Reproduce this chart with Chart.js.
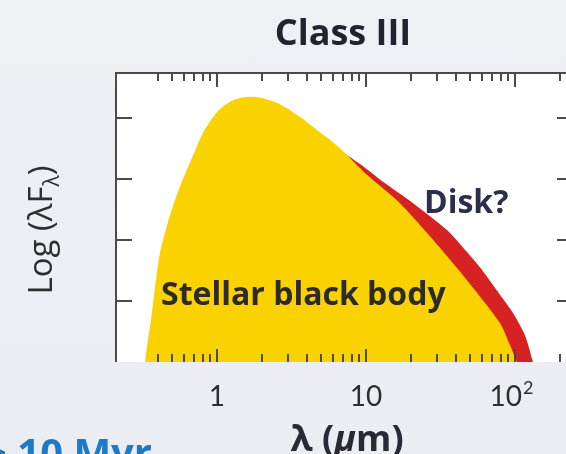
<!DOCTYPE html>
<html>
<head>
<meta charset="utf-8">
<script src="https://cdn.jsdelivr.net/npm/chart.js@4.4.1/dist/chart.umd.min.js"></script>
<style>
    html, body { margin: 0; padding: 0; }
    body { width: 566px; height: 454px; overflow: hidden; background: linear-gradient(180deg, #eef0f4 0%, #ebedf2 100%); }
    #wrap { position: relative; width: 566px; height: 454px; }
</style>
</head>
<body>
<div id="wrap"><canvas id="sedChart" width="566" height="454"></canvas></div>
<script>
'use strict';

// wavelength in micron, flux in arbitrary log units (y axis has no numbers)
const stellarWavelength = [0.329, 0.344, 0.361, 0.384, 0.414, 0.469, 0.523, 0.573, 0.639, 0.711, 0.793, 0.912, 1.047, 1.222, 1.427, 1.665, 2.00, 2.65, 3.61, 4.91, 6.69, 10.2, 16.9, 28.2, 47.6, 79.3, 92.5, 103];
const stellarFlux = [0, 0.36, 0.69, 1.23, 1.78, 2.29, 2.65, 2.91, 3.19, 3.45, 3.72, 3.96, 4.14, 4.26, 4.32, 4.34, 4.32, 4.22, 4.01, 3.76, 3.50, 3.06, 2.60, 2.00, 1.34, 0.64, 0.28, 0];
const diskWavelength = [6.2, 9.12, 13.0, 20.7, 35.0, 47.6, 58.2, 79.3, 97.0, 117, 132];
const diskFlux = [3.52, 3.24, 2.95, 2.60, 2.16, 1.80, 1.55, 1.10, 0.80, 0.43, 0];

const xMajorTicks = [1, 10, 100];
const xMinorTicks = [0.4, 0.5, 0.6, 0.7, 0.8, 0.9, 2, 3, 4, 5, 6, 7, 8, 9, 20, 30, 40, 50, 60, 70, 80, 90, 200];
const yTicks = [1, 2, 3, 4];

const FONT = '"Open Sans", Lato, sans-serif';
const TICK_FONT = 'Lato, "Open Sans", sans-serif';
const AXIS_COLOR = '#4a4a4a';

function toPoints(xs, ys) {
    return xs.map((x, i) => ({ x: x, y: ys[i] }));
}

const framePlugin = {
    id: 'frame',
    beforeDatasetsDraw(chart) {
        const { ctx, chartArea } = chart;
        ctx.save();
        ctx.fillStyle = '#ffffff';
        ctx.fillRect(chartArea.left, chartArea.top, chartArea.right - chartArea.left, chartArea.bottom - chartArea.top);
        ctx.restore();
    },
    afterDatasetsDraw(chart) {
        const { ctx, chartArea } = chart;
        const xs = chart.scales.x;
        const ys = chart.scales.y;
        const top = chartArea.top;
        const bottom = chartArea.bottom;
        const left = chartArea.left;
        const right = chartArea.right;

        ctx.save();
        ctx.strokeStyle = AXIS_COLOR;
        ctx.lineWidth = 2;

        // box lines (left + top)
        ctx.beginPath();
        ctx.moveTo(left, bottom);
        ctx.lineTo(left, top);
        ctx.lineTo(right, top);
        ctx.stroke();

        // x ticks, top and bottom, pointing inward
        ctx.beginPath();
        xMinorTicks.forEach((v) => {
            const px = Math.round(xs.getPixelForValue(v));
            ctx.moveTo(px, top); ctx.lineTo(px, top + 8);
            ctx.moveTo(px, bottom); ctx.lineTo(px, bottom - 8);
        });
        xMajorTicks.forEach((v) => {
            const px = Math.round(xs.getPixelForValue(v));
            ctx.moveTo(px, top); ctx.lineTo(px, top + 14);
            ctx.moveTo(px, bottom); ctx.lineTo(px, bottom - 13);
        });
        // y ticks left and right
        yTicks.forEach((v) => {
            const py = Math.round(ys.getPixelForValue(v));
            ctx.moveTo(left, py); ctx.lineTo(left + 16, py);
            ctx.moveTo(right, py); ctx.lineTo(right - 9, py);
        });
        ctx.stroke();

        // tick labels
        ctx.fillStyle = '#2e2e2e';
        ctx.font = '28px ' + TICK_FONT;
        ctx.textBaseline = 'alphabetic';
        ctx.textAlign = 'center';
        const labelY = 406;
        ctx.fillText('1', xs.getPixelForValue(1), labelY);
        ctx.fillText('10', xs.getPixelForValue(10), labelY);
        const hundred = xs.getPixelForValue(100);
        ctx.textAlign = 'right';
        ctx.fillText('10', hundred + 7, labelY);
        ctx.font = '18px ' + TICK_FONT;
        ctx.textAlign = 'left';
        ctx.fillText('2', hundred + 8, labelY - 12);

        // x axis title
        ctx.fillStyle = '#2a2a36';
        const titleY = 451;
        const parts = [
            { t: '\u03bb (', f: 'bold 36px ' + FONT },
            { t: '\u03bc', f: 'italic bold 36px ' + FONT },
            { t: 'm)', f: 'bold 36px ' + FONT }
        ];
        let total = 0;
        parts.forEach((p) => { ctx.font = p.f; p.w = ctx.measureText(p.t).width; total += p.w; });
        let cx = 347 - total / 2;
        ctx.textAlign = 'left';
        parts.forEach((p) => { ctx.font = p.f; ctx.fillText(p.t, cx, titleY); cx += p.w; });

        // y axis title, rotated
        ctx.save();
        ctx.translate(52, 230);
        ctx.rotate(-Math.PI / 2);
        ctx.font = '33px ' + FONT;
        const main = 'Log (\u03bbF';
        const mw = ctx.measureText(main).width;
        ctx.font = '21px ' + FONT;
        const sw = ctx.measureText('\u03bb').width;
        ctx.font = '33px ' + FONT;
        const cw = ctx.measureText(')').width;
        let sx = -(mw + sw + cw) / 2;
        ctx.textAlign = 'left';
        ctx.fillStyle = '#2e2e2e';
        ctx.fillText(main, sx, 0);
        sx += mw;
        ctx.font = '21px ' + FONT;
        ctx.fillText('\u03bb', sx, 7);
        sx += sw;
        ctx.font = '33px ' + FONT;
        ctx.fillText(')', sx, 0);
        ctx.restore();

        // annotations
        ctx.textAlign = 'left';
        ctx.fillStyle = '#2b2b2b';
        ctx.font = 'bold 32px ' + FONT;
        ctx.fillText('Stellar black body', 161, 305);
        ctx.fillStyle = '#2b2f4c';
        ctx.font = 'bold 32px ' + FONT;
        ctx.fillText('Disk?', 424, 213);

        // chart title
        ctx.fillStyle = '#23232f';
        ctx.font = 'bold 36px ' + FONT;
        ctx.textAlign = 'center';
        ctx.fillText('Class III', 343, 45);

        // age caption, cut at the bottom-left corner
        ctx.fillStyle = '#1f7ac6';
        ctx.font = 'bold 40px ' + FONT;
        ctx.textAlign = 'left';
        ctx.fillText('> 10 Myr', -16, 467);

        ctx.restore();
    }
};

function initChart() {
    const canvas = document.getElementById('sedChart');
    if (typeof Chart === 'undefined' || !canvas) {
        return;
    }

    new Chart(canvas, {
        type: 'line',
        data: {
            datasets: [{
                label: 'Stellar black body',
                data: toPoints(stellarWavelength, stellarFlux),
                backgroundColor: '#fad200',
                borderWidth: 0,
                pointRadius: 0,
                fill: 'origin',
                tension: 0.25,
                order: 0
            }, {
                label: 'Disk?',
                data: toPoints(diskWavelength, diskFlux),
                backgroundColor: '#d62222',
                borderWidth: 0,
                pointRadius: 0,
                fill: 'origin',
                tension: 0.25,
                order: 1
            }]
        },
        options: {
            responsive: false,
            animation: false,
            events: [],
            layout: { padding: { left: 116, right: 0, top: 73, bottom: 92 } },
            plugins: {
                legend: { display: false },
                tooltip: { enabled: false },
                title: { display: false }
            },
            scales: {
                x: { type: 'logarithmic', min: 0.21, max: 220, display: false },
                y: { type: 'linear', min: 0, max: 4.73, display: false }
            }
        },
        plugins: [framePlugin]
    });
}

initChart();
</script>
</body>
</html>
